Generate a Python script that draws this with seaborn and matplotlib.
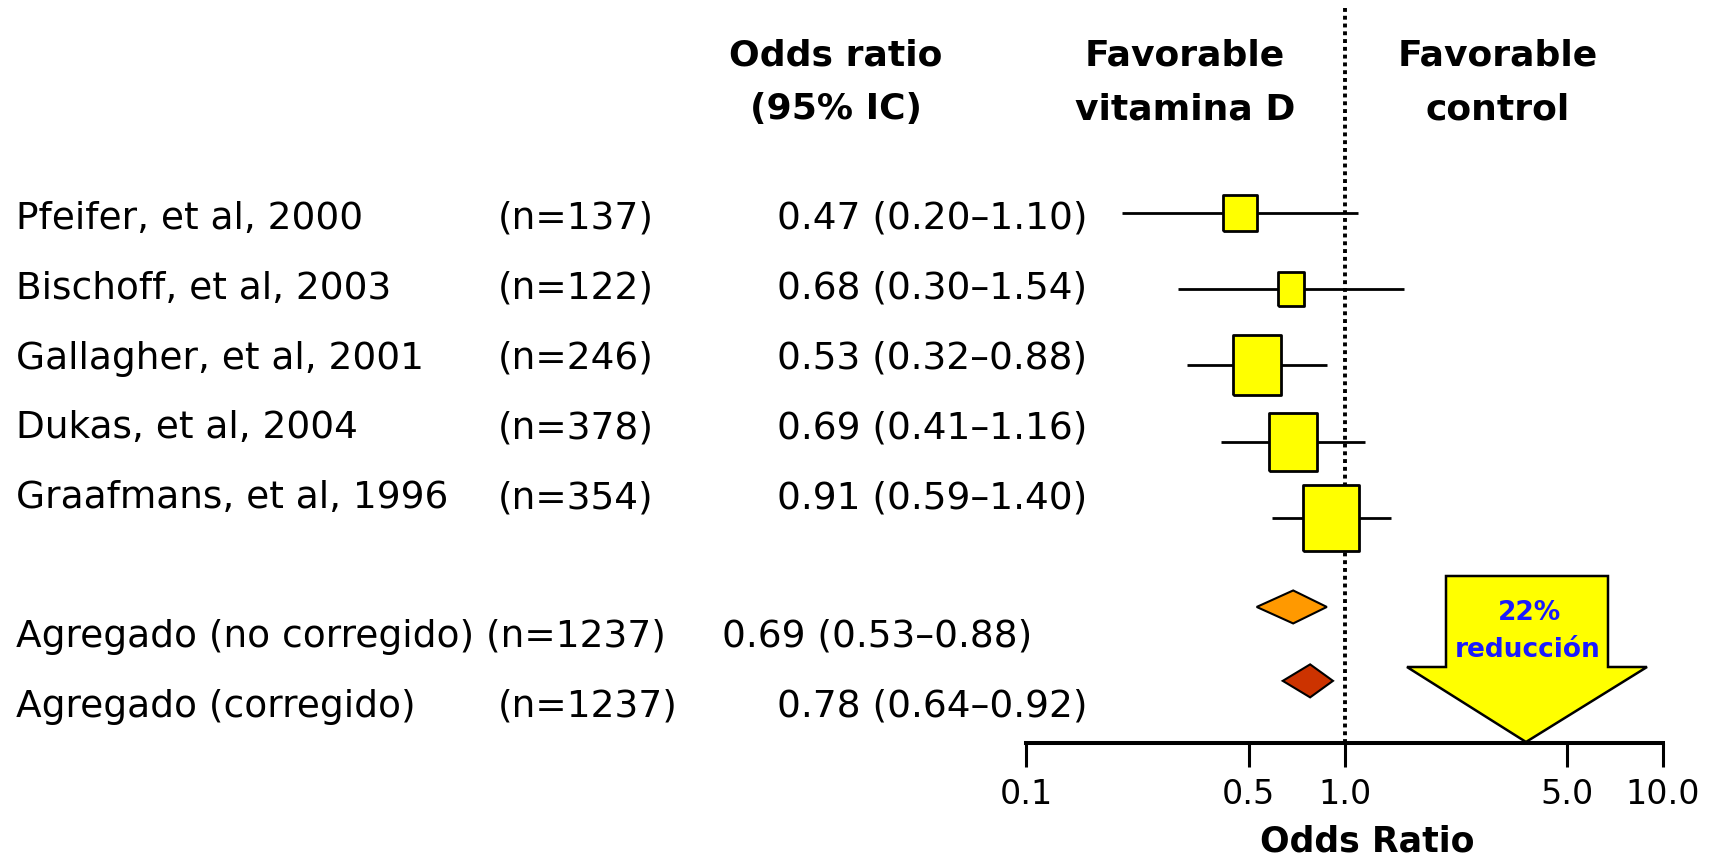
import numpy as np
import pandas as pd
import matplotlib
matplotlib.use("Agg")
import matplotlib.pyplot as plt
from matplotlib.patches import Polygon
import seaborn as sns

# study rows
studies = ["Pfeifer, et al, 2000", "Bischoff, et al, 2003", "Gallagher, et al, 2001",
           "Dukas, et al, 2004", "Graafmans, et al, 1996"]
n_studies = [137, 122, 246, 378, 354]
or_studies = [0.47, 0.68, 0.53, 0.69, 0.91]
lo_studies = [0.20, 0.30, 0.32, 0.41, 0.59]
hi_studies = [1.10, 1.54, 0.88, 1.16, 1.40]

# pooled rows
summary_labels = ["Agregado (no corregido)", "Agregado (corregido)"]
n_summary = [1237, 1237]
or_summary = [0.69, 0.78]
lo_summary = [0.53, 0.64]
hi_summary = [0.88, 0.92]

tick_values = [0.1, 0.5, 1.0, 5.0, 10.0]
tick_labels = ["0.1", "0.5", "1.0", "5.0", "10.0"]

# layout (pixels / points), not data
W, H = 1715, 861
text_rows_px = [219, 289, 359, 428, 498, 637, 707]
marker_rows = [0, 1, 2, 3, 4, 5.17, 6.14]
box_w_pt = [25, 19, 35, 35, 40]
box_h_pt = [26, 25, 43, 42, 48]
summary_colors = ["#FF9900", "#CC3300"]

df = pd.DataFrame({"or": or_studies, "lo": lo_studies, "hi": hi_studies,
                   "row": marker_rows[:5]})

sns.set_theme(style="white")
plt.rcParams["font.family"] = ["DejaVu Sans"]
plt.rcParams["text.color"] = "black"
plt.rcParams["axes.labelcolor"] = "black"
plt.rcParams["xtick.color"] = "black"

fig = plt.figure(figsize=(W / 100, H / 100), dpi=100)

# full-figure axes in pixel coords for the text table
ax_t = fig.add_axes([0, 0, 1, 1])
ax_t.set_xlim(0, W)
ax_t.set_ylim(H, 0)
ax_t.axis("off")

fs = 27
all_names = studies + summary_labels
all_n = n_studies + n_summary
all_or = or_studies + or_summary
all_lo = lo_studies + lo_summary
all_hi = hi_studies + hi_summary
for i, name in enumerate(all_names):
    y = text_rows_px[i]
    or_txt = f"{all_or[i]:.2f} ({all_lo[i]:.2f}\u2013{all_hi[i]:.2f})"
    if i == 5:
        ax_t.text(16, y, f"{name} (n={all_n[i]})", fontsize=fs, va="center", ha="left")
        ax_t.text(722, y, or_txt, fontsize=fs, va="center", ha="left")
    else:
        ax_t.text(16, y, name, fontsize=fs, va="center", ha="left")
        ax_t.text(498, y, f"(n={all_n[i]})", fontsize=fs, va="center", ha="left")
        ax_t.text(777, y, or_txt, fontsize=fs, va="center", ha="left")

# headers
headers = [("Odds ratio", "(95% IC)"), ("Favorable", "vitamina D"), ("Favorable", "control")]
header_x = [836, 1185, 1498]
for (l1, l2), hx in zip(headers, header_x):
    ax_t.text(hx, 56, l1, fontsize=26, fontweight="bold", ha="center", va="center")
    ax_t.text(hx, 109, l2, fontsize=26, fontweight="bold", ha="center", va="center")

# big arrow
arrow = [(1446, 576), (1608, 576), (1608, 667), (1647, 667), (1526, 742),
         (1407, 667), (1446, 667)]
ax_t.add_patch(Polygon(arrow, closed=True, facecolor="#FFFF00", edgecolor="black",
                       linewidth=1.8, zorder=2))
ax_t.text(1530, 613, "22%", fontsize=19, fontweight="bold", color="#1A1AFF",
          ha="center", va="center", zorder=3)
ax_t.text(1528, 650, "reducción", fontsize=19, fontweight="bold", color="#1A1AFF",
          ha="center", va="center", zorder=3)

# forest axes
x0, x1 = 1026, 1663
ytop, ybot = 8, 743
ax = fig.add_axes([x0 / W, (H - ybot) / H, (x1 - x0) / W, (ybot - ytop) / H])
ax.patch.set_alpha(0)
ax.set_xscale("log")
ax.set_xlim(0.1, 10)
row0, step = 213, 76.2
ax.set_ylim((ybot - row0) / step, (ytop - row0) / step)

ax.axvline(1.0, color="black", lw=2.8, linestyle=(0, (1, 1.0)), zorder=1)

ax.hlines(df["row"], df["lo"], df["hi"], color="black", lw=2.0, zorder=2)
for i in range(len(df)):
    w, h = box_w_pt[i], box_h_pt[i]
    verts = [(-w / 2, -h / 2), (w / 2, -h / 2), (w / 2, h / 2), (-w / 2, h / 2), (-w / 2, -h / 2)]
    sns.scatterplot(x=[df["or"][i]], y=[df["row"][i]], marker=verts, s=max(w, h) ** 2,
                    color="#FFFF00", edgecolor="black", linewidth=2.0, zorder=3, ax=ax,
                    legend=False)

dh = 16.5 / step
for j in range(2):
    r = marker_rows[5 + j]
    ax.fill([lo_summary[j], or_summary[j], hi_summary[j], or_summary[j]],
            [r, r - dh, r, r + dh], facecolor=summary_colors[j], edgecolor="black",
            linewidth=1.5, zorder=3)

sns.despine(ax=ax, left=True, top=True, right=True)
ax.spines["bottom"].set_linewidth(2.9)
ax.spines["bottom"].set_color("black")
ax.set_xticks(tick_values)
ax.set_xticklabels(tick_labels)
ax.minorticks_off()
ax.set_yticks([])
ax.tick_params(axis="x", which="major", direction="out", length=17, width=2.2,
               pad=8, labelsize=24, colors="black", bottom=True)
ax.set_xlabel("Odds Ratio", fontsize=25, fontweight="bold")
ax.xaxis.label.set_va("center")
ax.xaxis.set_label_coords((1367 - x0) / (x1 - x0), -(842 - ybot) / (ybot - ytop))
ax.set_ylabel("")

fig.savefig("out.png", dpi=100)
